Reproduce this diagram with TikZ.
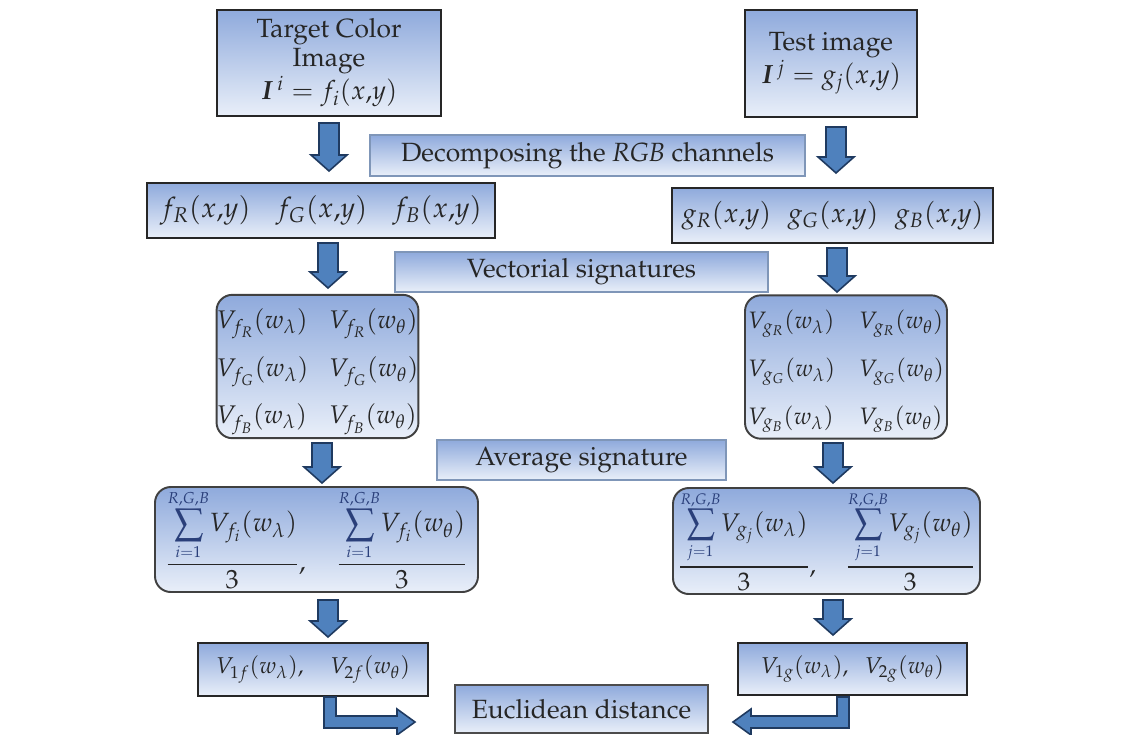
\documentclass[tikz,border=0pt]{standalone}
\usepackage[T1]{fontenc}
\usepackage{mathpazo}
\usepackage{amsmath,bm}
\usetikzlibrary{calc}
\definecolor{boxtop}{HTML}{8FAADC}
\definecolor{boxbot}{HTML}{E9EFF9}
\definecolor{arrfill}{HTML}{4F81BD}
\definecolor{arrline}{HTML}{1F3A60}
\definecolor{lblline}{HTML}{7F96B8}
\definecolor{txt}{HTML}{262626}
\definecolor{limc}{HTML}{2A3F7A}
\tikzset{
  wh/.style 2 args={minimum width=#1*0.02cm, minimum height=#2*0.02cm},
  shade box/.style={top color=boxtop, bottom color=boxbot, text=txt, align=center, inner sep=0pt},
  mainbox/.style={shade box, draw=black!85, line width=1.1pt},
  lblbox/.style={shade box, draw=lblline, line width=0.8pt},
  roundbox/.style={shade box, draw=black!75, line width=1.1pt, rounded corners=9pt},
  blkarrow/.style={fill=arrfill, draw=arrline, line width=0.9pt, line join=miter},
  txtfont/.style={font=\fontsize{15}{16.5}\selectfont},
}
\newcommand{\downarr}[3]{%
  \draw[blkarrow] ({#1-10},#2) -- ({#1+10},#2) -- ({#1+10},{#3-16}) -- ({#1+18},{#3-16})
   -- (#1,#3) -- ({#1-18},{#3-16}) -- ({#1-10},{#3-16}) -- cycle;}
\newcommand{\avgf}[3]{\frac{\underset{\scriptscriptstyle\color{limc}#1=1}{\overset{\scriptscriptstyle\color{limc}R,G,B}{\displaystyle\sum}} V_{#2_#1}(w_#3)}{3}}
\begin{document}
\begin{tikzpicture}[x=0.02cm, y=-0.02cm]
\useasboundingbox[fill=white] (0,0) rectangle (1141,734);

% top boxes
\node[mainbox, txtfont, wh={224}{106}] (tgt) at (329,63)
  {Target Color\\Image\\$\bm{I}^{\,i} = f_i(x{,}y)$};
\node[mainbox, txtfont, wh={172}{107}] (test) at (831,63.5)
  {Test image\\$\bm{I}^{\,j} = g_j(x{,}y)$};

\node[lblbox, txtfont, wh={435}{41}] (dec) at (587.5,155.5)
  {Decomposing the \textit{RGB} channels};

\node[mainbox, font=\fontsize{16}{19}\selectfont, wh={348}{55}] (fr) at (321,210.5)
  {$f_R(x{,}y)\hspace{0.9em} f_G(x{,}y)\hspace{0.9em} f_B(x{,}y)$};
\node[mainbox, font=\fontsize{15.5}{19}\selectfont, wh={321}{55}] (gr) at (832.5,215.5)
  {$g_R(x{,}y)\hspace{0.6em} g_G(x{,}y)\hspace{0.6em} g_B(x{,}y)$};

\node[lblbox, txtfont, wh={373}{40}] (vec) at (581.5,272)
  {Vectorial signatures};

\node[roundbox, wh={195}{139}, font=\fontsize{14.5}{17}\selectfont] (vf) at (317.5,366.5)
  {$\renewcommand{\arraystretch}{1.6}\begin{array}{@{}l@{\hspace{0.8em}}l@{}}
    V_{f_R}(w_\lambda) & V_{f_R}(w_\theta)\\
    V_{f_G}(w_\lambda) & V_{f_G}(w_\theta)\\
    V_{f_B}(w_\lambda) & V_{f_B}(w_\theta)
   \end{array}$};
\node[roundbox, wh={202}{140}, font=\fontsize{13.5}{16}\selectfont] (vg) at (846,367)
  {$\renewcommand{\arraystretch}{1.7}\begin{array}{@{}l@{\hspace{1em}}l@{}}
    V_{g_R}(w_\lambda) & V_{g_R}(w_\theta)\\
    V_{g_G}(w_\lambda) & V_{g_G}(w_\theta)\\
    V_{g_B}(w_\lambda) & V_{g_B}(w_\theta)
   \end{array}$};

\node[lblbox, txtfont, wh={289}{40}] (avg) at (581.5,460)
  {Average signature};

\node[roundbox, wh={323}{105}, font=\fontsize{15}{17}\selectfont] (sf) at (316.5,539.5)
  {$\displaystyle \avgf{i}{f}{\lambda},\quad \avgf{i}{f}{\theta}$};
\node[roundbox, wh={307}{106}, font=\fontsize{14.5}{17}\selectfont] (sg) at (826.5,541)
  {$\displaystyle \avgf{j}{g}{\lambda},\quad \avgf{j}{g}{\theta}$};

\node[mainbox, font=\fontsize{13}{16}\selectfont, wh={230}{53}] (v1f) at (313,669.5)
  {$V_{1f}(w_\lambda),\quad V_{2f}(w_\theta)$};
\node[mainbox, font=\fontsize{13}{16}\selectfont, wh={229}{52}] (v1g) at (852.5,669)
  {$V_{1g}(w_\lambda),\;\; V_{2g}(w_\theta)$};

\node[lblbox, draw=black!70, txtfont, wh={253}{48}] (euc) at (581.5,709)
  {Euclidean distance};

% down block arrows
\downarr{329}{123}{171}
\downarr{836}{127}{173}
\downarr{328}{243}{288}
\downarr{837}{248}{292}
\downarr{322}{443}{483}
\downarr{833}{443}{483}
\downarr{328}{600}{637}
\downarr{833}{600}{635}

% elbow arrows to Euclidean distance
\draw[blkarrow] (324,697) -- (336,697) -- (336,716) -- (397,716) -- (397,709) -- (415,722)
  -- (397,735) -- (397,728) -- (324,728) -- cycle;
\draw[blkarrow] (849,697) -- (837,697) -- (837,716) -- (751,716) -- (751,709) -- (733,722)
  -- (751,735) -- (751,728) -- (849,728) -- cycle;
\end{tikzpicture}
\end{document}
